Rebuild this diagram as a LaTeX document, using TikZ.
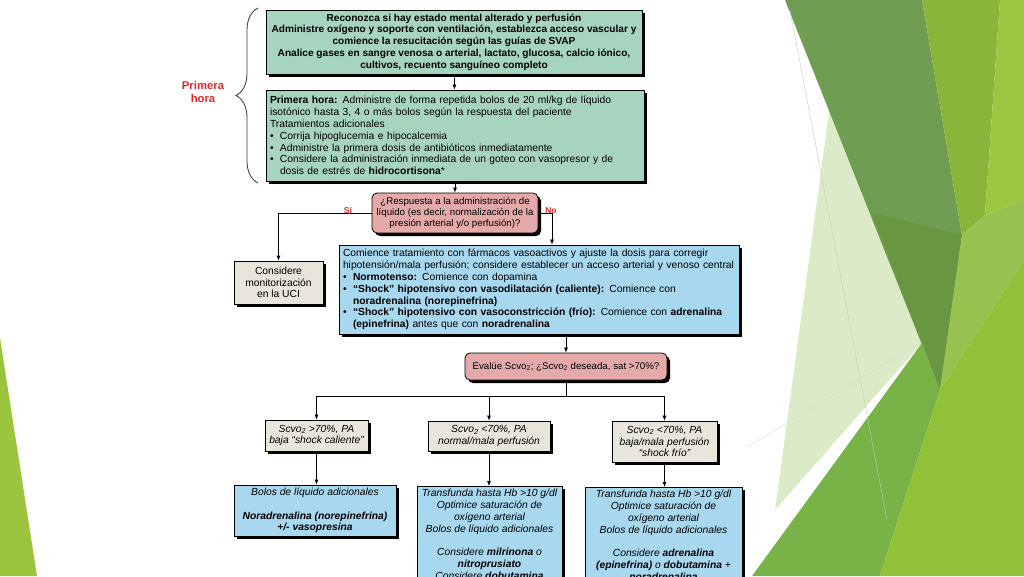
\documentclass[tikz,border=0pt]{standalone}
\usepackage{fontspec}
\setmainfont{Liberation Sans}
\usetikzlibrary{arrows.meta,shadows,decorations.pathreplacing}

\definecolor{verdecaja}{HTML}{A6D4BF}
\definecolor{rosacaja}{HTML}{E6A9A9}
\definecolor{azulcaja}{HTML}{A7D8F0}
\definecolor{beigecaja}{HTML}{E8E6DA}
\definecolor{rojotexto}{HTML}{E02A2A}

\newcommand{\cuerpo}{\fontsize{10.3}{11.8}\selectfont}
\newcommand{\chico}{\fontsize{9.7}{11}\selectfont}
\newcommand{\vi}{\makebox[10pt][l]{\textbullet}}
\newcommand{\sangria}{\hspace*{10pt}}

\begin{document}
\begin{tikzpicture}[x=1pt,y=-1pt,
    caja/.style={draw=black,line width=0.8pt,inner sep=3pt,
      drop shadow={shadow xshift=3pt,shadow yshift=-3pt,fill=black,opacity=1}},
    verde/.style={caja,fill=verdecaja,font=\cuerpo},
    rosa/.style={caja,fill=rosacaja,rounded corners=5pt,font=\chico,align=center},
    azul/.style={caja,fill=azulcaja,font=\cuerpo\itshape,align=center},
    beige/.style={caja,fill=beigecaja,font=\cuerpo\itshape,align=center},
    flecha/.style={-{Latex[length=5pt,width=4pt]},line width=0.7pt},
    linea/.style={line width=0.7pt},
    rojo/.style={text=rojotexto,font=\fontsize{8.5}{10}\selectfont\bfseries}]
\useasboundingbox (0,0) rectangle (1024,576);
\clip (0,0) rectangle (1024,576);

% fondo
\fill[color={rgb,255:red,220;green,235;blue,199}] (830,105) -- (922,343) -- (775,510) -- cycle;
\fill[color={rgb,255:red,111;green,157;blue,81}] (785,0) -- (922,0) -- (962,235) -- (940,390) -- cycle;
\fill[color={rgb,255:red,105;green,150;blue,65}] (872,213) -- (962,235) -- (940,390) -- cycle;
\fill[color={rgb,255:red,137;green,181;blue,59}] (922,0) -- (1000,0) -- (985,215) -- (962,235) -- cycle;
\fill[color={rgb,255:red,156;green,198;blue,65}] (1000,0) -- (1024,0) -- (1024,200) -- (985,215) -- cycle;
\fill[color={rgb,255:red,151;green,194;blue,79}] (962,235) -- (985,215) -- (1024,200) -- (1024,260) -- (940,390) -- cycle;
\fill[color={rgb,255:red,119;green,179;blue,71}] (752,576) -- (922,343) -- (940,390) -- (880,576) -- cycle;
\fill[color={rgb,255:red,145;green,193;blue,56}] (880,576) -- (940,390) -- (1024,260) -- (1024,576) -- cycle;
\draw[gray!45,line width=0.4pt] (790,10) -- (887,520);
\draw[gray!30,line width=0.4pt] (747,447) -- (920,343);
\fill[color={rgb,255:red,155;green,197;blue,61}] (0,338) -- (37,576) -- (0,576) -- cycle;

% primera hora
\node[verde,minimum width=376pt,minimum height=64pt,align=center,font=\fontsize{10.1}{11.7}\selectfont\bfseries] (reconozca) at (454,42)
  {Reconozca si hay estado mental alterado y perfusión\\
   Administre oxígeno y soporte con ventilación, establezca acceso vascular y\\
   comience la resucitación según las guías de SVAP\\
   Analice gases en sangre venosa o arterial, lactato, glucosa, calcio iónico,\\
   cultivos, recuento sanguíneo completo};
\node[verde,inner sep=4pt,text width=370pt,minimum height=91pt,align=left] (hora) at (455,135.5)
  {\textbf{Primera hora:} Administre de forma repetida bolos de 20 ml/kg de líquido\\
   isotónico hasta 3, 4 o más bolos según la respuesta del paciente\\
   Tratamientos adicionales\\
   \vi Corrija hipoglucemia e hipocalcemia\\
   \vi Administre la primera dosis de antibióticos inmediatamente\\
   \vi Considere la administración inmediata de un goteo con vasopresor y de\\
   \sangria dosis de estrés de \textbf{hidrocortisona}*};
\draw[decorate,decoration={brace,amplitude=22pt},line width=0.8pt,black!80] (258,183) -- (258,8);
\node[rojo,font=\fontsize{11.3}{13}\selectfont\bfseries,align=center] (titulo) at (203,91.5) {Primera\\hora};

% respuesta
\node[rosa,minimum width=166pt,minimum height=40pt] (resp) at (455,213)
  {¿Respuesta a la administración de\\
   líquido (es decir, normalización de la\\
   presión arterial y/o perfusión)?};
\node[beige,font=\cuerpo,minimum width=89pt,minimum height=43pt] (cons) at (278.5,282.5)
  {Considere\\monitorización\\en la UCI};
\node[azul,font=\cuerpo,align=left,inner sep=4pt,text width=392pt,minimum height=89pt] (vaso) at (539,289.5)
  {Comience tratamiento con fármacos vasoactivos y ajuste la dosis para corregir\\
   hipotensión/mala perfusión; considere establecer un acceso arterial y venoso central\\
   \vi\textbf{Normotenso:} Comience con dopamina\\
   \vi\textbf{“Shock” hipotensivo con vasodilatación (caliente):} Comience con\\
   \sangria\textbf{noradrenalina (norepinefrina)}\\
   \vi\textbf{“Shock” hipotensivo con vasoconstricción (frío):} Comience con \textbf{adrenalina}\\
   \sangria\textbf{(epinefrina)} antes que con \textbf{noradrenalina}};
\node[rojo] (si) at (348,210.5) {Sí};
\node[rojo] (no) at (551,210.5) {No};

% scvo2
\node[rosa,minimum width=202pt,minimum height=27pt] (evalua) at (566,366.5)
  {Evalúe Scvo\textsubscript{2}; ¿Scvo\textsubscript{2} deseada, sat >70\%?};
\coordinate (rama) at (566,396);
\node[beige,minimum width=103pt,minimum height=31pt] (caliente) at (316.5,435.5)
  {Scvo\textsubscript{2} >70\%, PA\\baja “shock caliente”};
\node[beige,minimum width=122pt,minimum height=30pt] (normal) at (489,436)
  {Scvo\textsubscript{2} <70\%, PA\\normal/mala perfusión};
\node[beige,minimum width=105pt,minimum height=41pt] (frio) at (664.5,441.5)
  {Scvo\textsubscript{2} <70\%, PA\\baja/mala perfusión\\“shock frío”};
\node[azul,minimum width=162pt,minimum height=51pt] (bolos) at (315,510.5)
  {Bolos de líquido adicionales\\[11.8pt]
   \textbf{Noradrenalina (norepinefrina)}\\\textbf{+/- vasopresina}};
\node[azul,anchor=north,minimum width=145pt] (transA) at (489.5,486)
  {Transfunda hasta Hb >10 g/dl\\Optimice saturación de\\oxígeno arterial\\
   Bolos de líquido adicionales\\[11.8pt]
   Considere \textbf{milrinona} o\\\textbf{nitroprusiato}\\Considere \textbf{dobutamina}};
\node[azul,anchor=north,minimum width=157pt] (transB) at (663.5,487)
  {Transfunda hasta Hb >10 g/dl\\Optimice saturación de\\oxígeno arterial\\
   Bolos de líquido adicionales\\[11.8pt]
   Considere \textbf{adrenalina}\\\textbf{(epinefrina)} o \textbf{dobutamina} +\\\textbf{noradrenalina}};

% conectores
\draw[flecha] (reconozca) -- (hora);
\draw[flecha] (hora.south) -- (resp.north);
\draw[flecha] (resp.west) -| (cons.north);
\draw[flecha] (resp.east) -| ([xshift=13pt]vaso.north);
\draw[flecha] (evalua.north |- vaso.south) -- (evalua.north);
\draw[linea] (evalua.south) -- (rama);
\draw[flecha] (rama) -| (caliente.north);
\draw[flecha] (rama) -| (normal.north);
\draw[flecha] (rama) -| (frio.north);
\draw[flecha] (caliente.south) -- (caliente.south |- bolos.north);
\draw[flecha] (normal.south) -- (normal.south |- transA.north);
\draw[flecha] (frio.south) -- (frio.south |- transB.north);
\end{tikzpicture}
\end{document}
